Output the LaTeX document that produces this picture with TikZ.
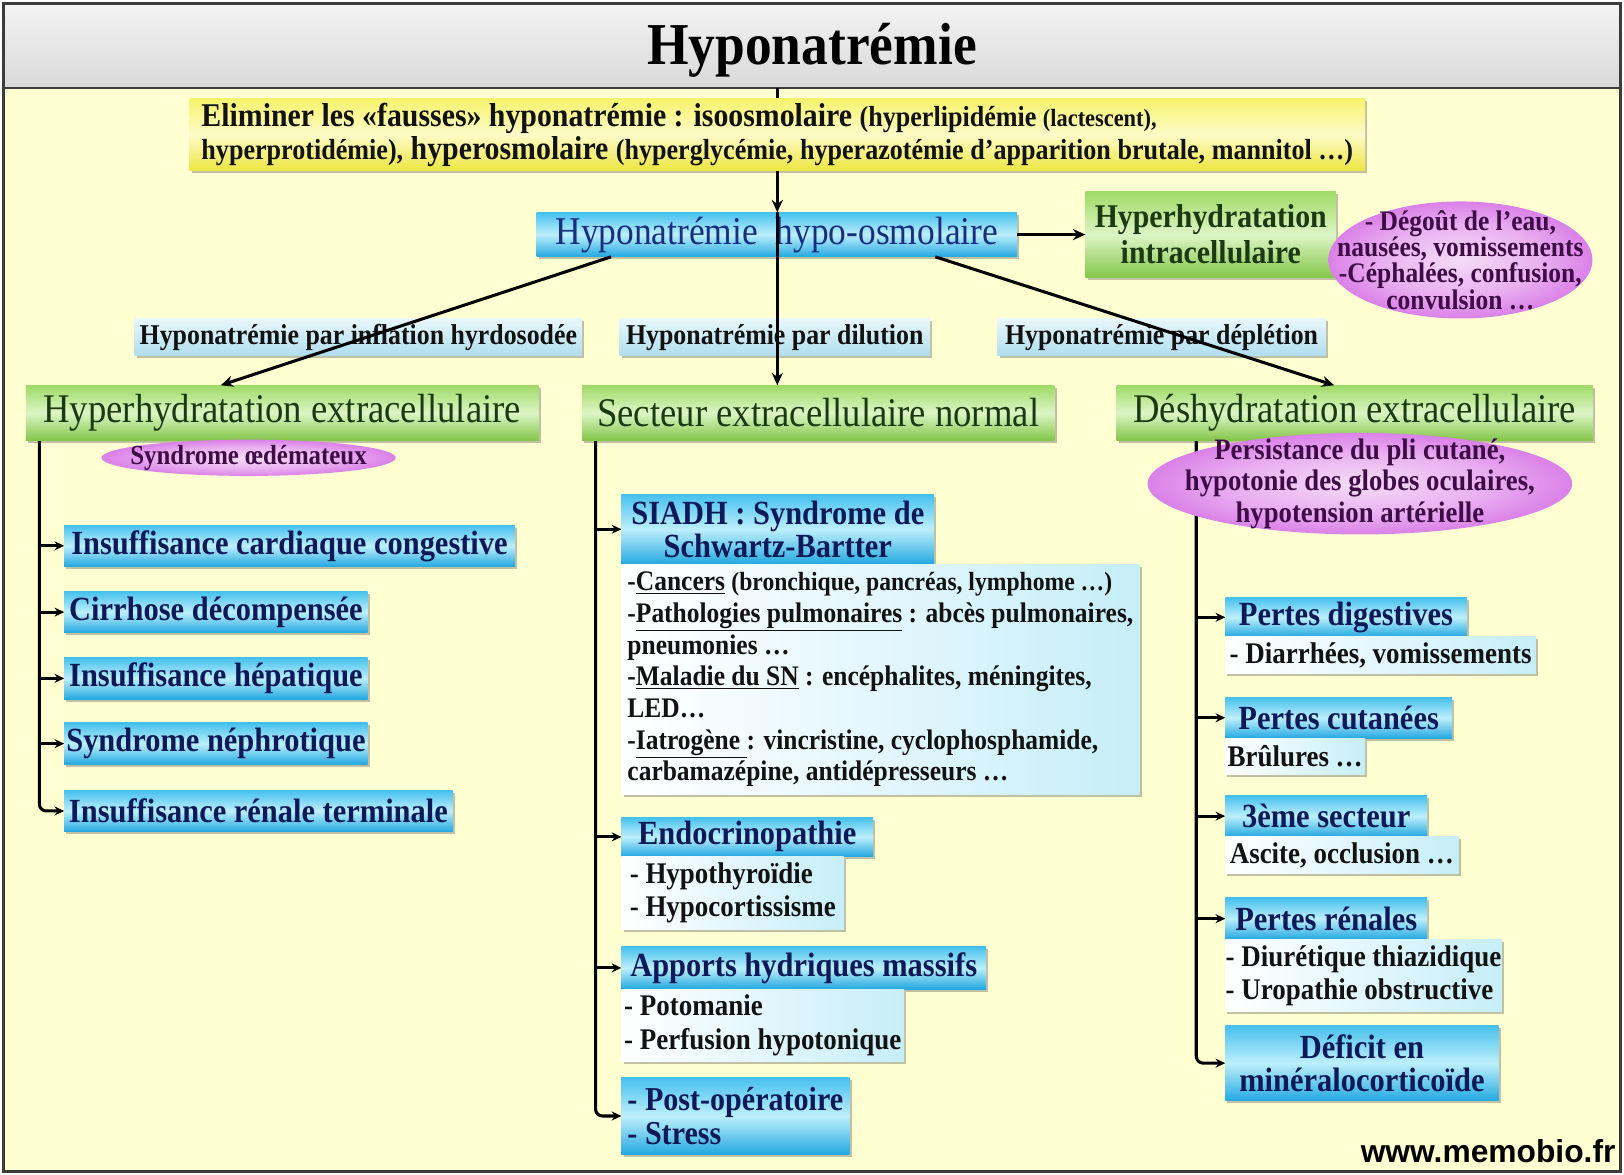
\documentclass[tikz,border=0pt]{standalone}
\usepackage{fontspec}
\setmainfont[FakeStretch=0.9]{Liberation Serif}
\newfontfamily\websans{Liberation Sans}
\usetikzlibrary{arrows.meta,shapes.geometric,shadows,calc}

\pgfdeclarelayer{paper}
\pgfdeclarelayer{wires}
\pgfsetlayers{paper,wires,main}

\definecolor{paperyel}{HTML}{FFFFD2}
\definecolor{framegray}{HTML}{3C3C3C}
\definecolor{bandtop}{HTML}{F3F3F3}
\definecolor{bandbot}{HTML}{D9D9D9}
\definecolor{cyanTop}{HTML}{45C0EE}
\definecolor{cyanMid}{HTML}{BDEFFC}
\definecolor{cyanBot}{HTML}{22A8E0}
\definecolor{navyInk}{HTML}{0E1A57}
\definecolor{hypoInk}{HTML}{17307E}
\definecolor{paleCyan}{HTML}{C6EEF9}
\definecolor{labTop}{HTML}{E8F7FC}
\definecolor{labBot}{HTML}{B1DEEE}
\definecolor{grnTop}{HTML}{9FDA66}
\definecolor{grnMid}{HTML}{DDF5C6}
\definecolor{grnBot}{HTML}{83C649}
\definecolor{grnInk}{HTML}{1C3A12}
\definecolor{purA}{HTML}{F4DCF7}
\definecolor{purB}{HTML}{E9B0F0}
\definecolor{purC}{HTML}{D672E6}
\definecolor{purD}{HTML}{C64BDA}
\definecolor{purE}{HTML}{B838CE}
\definecolor{purInk}{HTML}{3E0B46}
\definecolor{yelTop}{HTML}{F7F36C}
\definecolor{yelMid}{HTML}{FDFBC8}
\definecolor{yelBot}{HTML}{EDE640}
\definecolor{ink}{HTML}{121212}

% soft glow for the clinical-sign ellipses
\pgfdeclareradialshading{purglow}{\pgfpoint{0bp}{0bp}}{%
  color(0bp)=(purA); color(15bp)=(purB); color(28bp)=(purC); color(40bp)=(purD); color(50bp)=(purE)}

\newcommand\fz[2]{\fontsize{#1}{#2}\selectfont}

\tikzset{
  sz/.style 2 args={minimum width=#1*0.75pt, minimum height=#2*0.75pt},
  base/.style={inner sep=0pt, outer sep=0pt, align=center},
  softshadow/.style={drop shadow={shadow xshift=1.6pt, shadow yshift=-1.8pt, opacity=0.35, fill=black!70}},
  band/.style={base, draw=framegray, line width=1.6pt, top color=bandtop, bottom color=bandbot,
    font=\bfseries\fz{43pt}{43pt}, text=black},
  yelbox/.style={base, softshadow, align=left, top color=yelTop, bottom color=yelBot, middle color=yelMid,
    font=\bfseries\fz{24pt}{24pt}, text=ink},
  hdr/.style={base, softshadow, top color=cyanTop, bottom color=cyanBot, middle color=cyanMid,
    text=navyInk, font=\bfseries\fz{24.5pt}{24pt}},
  note/.style={base, softshadow, align=left, left color=white, right color=paleCyan,
    text=ink, font=\bfseries\fz{21.7pt}{24pt}},
  lab/.style={base, softshadow, top color=labTop, bottom color=labBot,
    text=ink, font=\bfseries\fz{20.8pt}{21pt}},
  grn/.style={base, softshadow, top color=grnTop, bottom color=grnBot, middle color=grnMid,
    text=grnInk, font=\fz{29.5pt}{29pt}},
  pur/.style={ellipse, base, shading=purglow,
    text=purInk, font=\bfseries\fz{20.5pt}{19pt}},
  wire/.style={line width=2.2pt, draw=black, rounded corners=5pt},
  tipL/.style={-{Stealth[length=9pt,width=8pt]}},
  tipS/.style={-{Stealth[length=7pt,width=6.5pt]}},
}

\begin{document}
\begin{tikzpicture}[x=0.75pt,y=-0.75pt]
\useasboundingbox (0,0) rectangle (1568,1134);

% paper and frame
\begin{pgfonlayer}{paper}
  \fill[white] (0,0) rectangle (1568,1134);
  \fill[paperyel] (3,3) rectangle (1565,1131);
\end{pgfonlayer}
\node[band, sz={1562}{82}] (band) at (784,44) {\raisebox{-14pt}[0pt][0pt]{Hyponatrémie}};
\draw[framegray, line width=2.2pt] (3,3) rectangle (1565,1131);

% top of the tree
\node[yelbox, sz={1135}{70}] (yellow) at (750.5,130)
  {Eliminer les «fausses» hyponatrémie : isoosmolaire {\fz{21pt}{24pt}(hyperlipidémie {\fz{18pt}{24pt}(lactescent),}}\\
   {\fz{21pt}{24pt}hyperprotidémie),} hyperosmolaire {\fz{21pt}{24pt}(hyperglycémie, hyperazotémie d’apparition brutale, mannitol …)}};

\node[hdr, sz={464}{43}, font=\fz{28.5pt}{28pt}, text=hypoInk] (hypo) at (750,226.5)
  {Hyponatrémie\hspace{0.45em}hypo-osmolaire};
\node[grn, sz={242}{83}, font=\bfseries\fz{24pt}{26pt}] (intra) at (1169,226.5)
  {Hyperhydratation\\intracellulaire};
\node[pur, sz={255}{113}, inner xsep=-40pt, inner ysep=-30pt] (signs) at (1410,251)
  {- Dégoût de l’eau,\\nausées, vomissements\\-Céphalées, confusion,\\convulsion …};

% three mechanisms
\node[lab, sz={432}{35}] (inflation) at (346,325.5) {Hyponatrémie par inflation hyrdosodée};
\node[lab, sz={300}{35}] (dilution) at (748,325.5) {Hyponatrémie par dilution};
\node[lab, sz={317}{35}] (depletion) at (1121.5,325.5) {Hyponatrémie par déplétion};

% extracellular sector
\node[grn, sz={495}{53}] (G1) at (272.5,398.5) {Hyperhydratation\ extracellulaire};
\node[grn, sz={456}{53}] (G2) at (790,398.5) {Secteur extracellulaire normal};
\node[grn, sz={460}{53}] (G3) at (1308,398.5) {Déshydratation\ extracellulaire};

% left column
\node[hdr, sz={435}{40}] (LB1) at (279.5,527) {Insuffisance cardiaque congestive};
\node[hdr, sz={293}{40}] (LB2) at (208.5,591) {Cirrhose décompensée};
\node[hdr, sz={293}{40}] (LB3) at (208.5,655) {Insuffisance hépatique};
\node[hdr, sz={293}{40}] (LB4) at (208.5,718) {Syndrome néphrotique};
\node[hdr, sz={375}{40}] (LB5) at (249.5,783) {Insuffisance rénale terminale};

% middle column
\node[hdr, sz={302}{68}] (siadh) at (751,511) {SIADH : Syndrome de\\Schwartz-Bartter};
\node[note, sz={500}{222}, font=\bfseries\fz{20.5pt}{22.9pt}] (siadhnote) at (850,656)
  {-\underline{Cancers} {\fz{19pt}{22.9pt}(bronchique, pancréas, lymphome …)}\\
   -\underline{Pathologies pulmonaires} : abcès pulmonaires,\\
   pneumonies …\\
   -\underline{Maladie du SN} : encéphalites, méningites,\\
   LED…\\
   -\underline{Iatrogène }: vincristine, cyclophosphamide,\\
   carbamazépine, antidépresseurs …};
\node[hdr, sz={243}{38}] (endo) at (721.5,808) {Endocrinopathie};
\node[note, sz={215}{70}] (endonote) at (707.5,862) {- Hypothyroïdie\\- Hypocortissisme};
\node[hdr, sz={352}{41}] (apports) at (776,934.5) {Apports hydriques massifs};
\node[note, sz={273}{70}] (apportsnote) at (736.5,990) {- Potomanie\\- Perfusion hypotonique};
\node[hdr, sz={220}{75}, align=left, font=\bfseries\fz{24.2pt}{25pt}] (postop) at (710,1077.5)
  {- Post-opératoire\\- Stress};

% right column
\node[hdr, sz={233}{38}] (pd) at (1299.5,596) {Pertes digestives};
\node[note, sz={300}{35}] (pdnote) at (1333,632.5) {- Diarrhées, vomissements};
\node[hdr, sz={219}{40}] (pc) at (1292.5,693) {Pertes cutanées};
\node[note, sz={135}{35}] (pcnote) at (1250.5,730.5) {Brûlures …};
\node[hdr, sz={195}{40}] (ts) at (1280.5,788) {3ème secteur};
\node[note, sz={225}{35}] (tsnote) at (1295.5,825.5) {Ascite, occlusion …};
\node[hdr, sz={195}{40}] (pr) at (1280.5,887) {Pertes rénales};
\node[note, sz={267}{70}] (prnote) at (1316.5,942) {- Diurétique thiazidique\\- Uropathie obstructive};
\node[hdr, sz={264}{73}] (dm) at (1315,1026.5) {Déficit en\\minéralocorticoïde};

% branch columns, kept under the boxes and ellipses
\begin{pgfonlayer}{wires}
  \coordinate (cL) at ($(G1.south west)+(13,0)$);
  \draw[wire, tipS] (cL) |- (LB5.west);
  \foreach \b in {LB1,LB2,LB3,LB4}
    \draw[wire, tipS] (cL |- \b.west) -- (\b.west);

  \coordinate (cM) at ($(G2.south west)+(13,0)$);
  \draw[wire, tipS] (cM) |- (postop.west);
  \foreach \b in {siadh,endo,apports}
    \draw[wire, tipS] (cM |- \b.west) -- (\b.west);

  \coordinate (cR) at ($(G3.south west)+(77,0)$);
  \draw[wire, tipS] (cR) |- (dm.west);
  \foreach \b in {pd,pc,ts,pr}
    \draw[wire, tipS] (cR |- \b.west) -- (\b.west);
\end{pgfonlayer}

% clinical signs
\node[pur, sz={284}{35}, inner xsep=-40pt, inner ysep=-15pt, font=\bfseries\fz{20pt}{20pt}] (oedeme) at (240,442)
  {Syndrome œdémateux};
\node[pur, sz={410}{98}, inner xsep=-40pt, inner ysep=-25pt, font=\bfseries\fz{21.5pt}{23pt}] (dehyd) at (1313,467)
  {Persistance du pli cutané,\\hypotonie des globes oculaires,\\hypotension artérielle};

% main connectors
\draw[wire] (yellow.north |- band.south) -- (yellow.north);
\draw[wire, tipL] (yellow.south) -- (yellow.south |- hypo.north);
\draw[wire, tipL] (yellow.south |- hypo.north) -- (yellow.south |- G2.north);
\draw[wire, tipL] (hypo.east) -- (intra.west);
\coordinate (dl0) at ($(hypo.south west)!0.155!(hypo.south east)$);
\coordinate (dl1) at ($(G1.north west)!0.38!(G1.north east)$);
\coordinate (dr0) at ($(hypo.south west)!0.83!(hypo.south east)$);
\coordinate (dr1) at ($(G3.north west)!0.457!(G3.north east)$);
\draw[wire, tipL] (dl0) -- (dl1);
\draw[wire, tipL] (dr0) -- (dr1);

\node[anchor=base east, inner sep=0pt, font=\websans\bfseries\fz{23pt}{23pt}] (web) at (1560,1122) {www.memobio.fr};
\end{tikzpicture}
\end{document}
